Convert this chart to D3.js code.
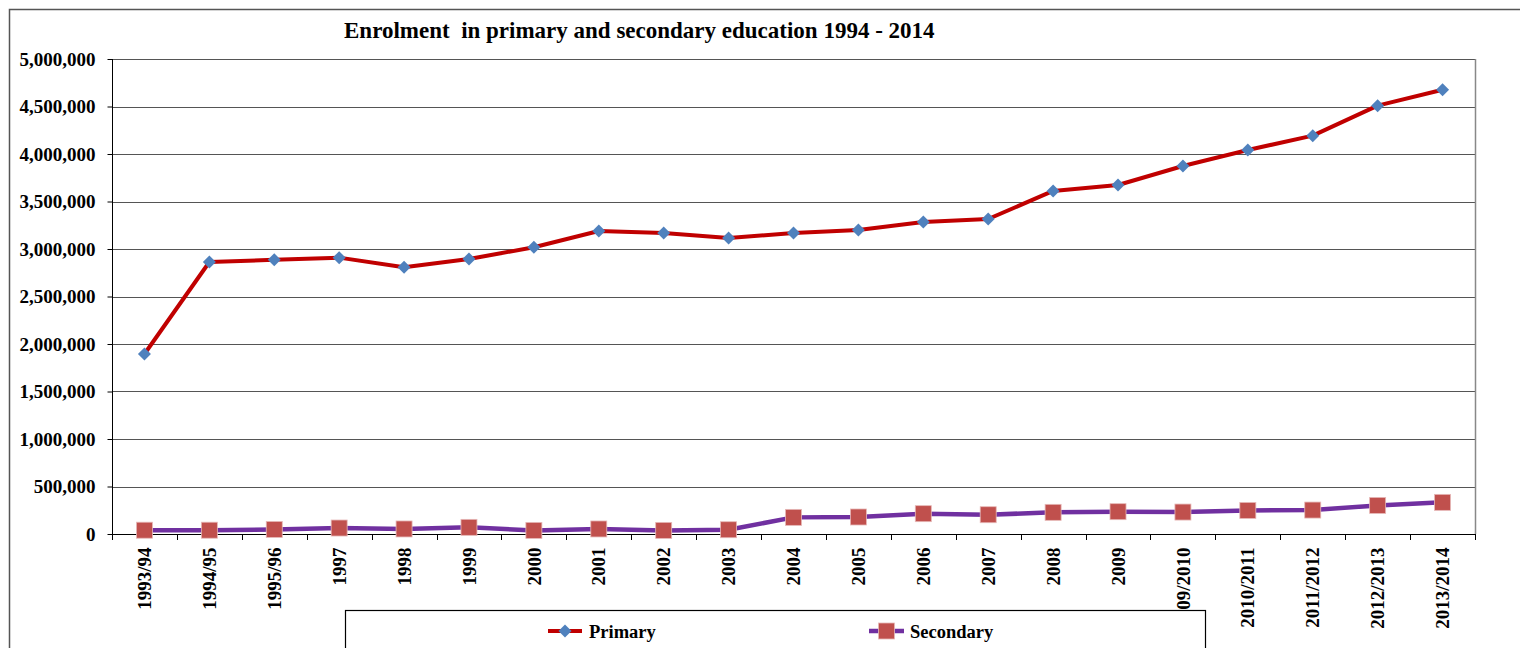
<!DOCTYPE html>
<html>
<head>
<meta charset="utf-8">
<script src="https://cdn.jsdelivr.net/npm/d3@7"></script>
<style>
  html, body { margin: 0; padding: 0; background: #fff; }
  svg { display: block; }
  text { font-family: "Liberation Serif", "Times New Roman", serif; font-weight: bold; fill: #000; }
</style>
</head>
<body>
<svg id="chart" width="1520" height="648"></svg>
<script>
const categories = ["1993/94","1994/95","1995/96","1997","1998","1999","2000","2001","2002","2003","2004","2005","2006","2007","2008","2009","2009/2010","2010/2011","2011/2012","2012/2013","2013/2014"];
const primary = [1895000,2863000,2887000,2909000,2807000,2895000,3018000,3189000,3168000,3116000,3168000,3200000,3284000,3316000,3611000,3674000,3874000,4042000,4193000,4509000,4677000];
const secondary = [40000,40000,48000,63000,53000,70000,38000,53000,38000,45000,175000,179000,214000,203000,228000,235000,231000,248000,252000,301000,333000];
const yTicks = [0,500000,1000000,1500000,2000000,2500000,3000000,3500000,4000000,4500000,5000000];
const titleText = "Enrolment  in primary and secondary education 1994 - 2014";
const seriesNames = ["Primary","Secondary"];

const svg = d3.select("#chart");
const L = 112, R = 1475, T = 59, B = 534;

const x = d3.scaleBand().domain(categories).range([L, R]).padding(0);
const xc = c => x(c) + x.bandwidth() / 2;
const y = d3.scaleLinear().domain([0, 5000000]).range([B, T]);

// outer border (left + top visible)
svg.append("path").attr("d", `M9.5,648 V9.5 H1520`).attr("fill", "none")
  .attr("stroke", "#555").attr("stroke-width", 1.5);

// title
svg.append("text").attr("x", 344).attr("y", 38).attr("font-size", 23)
  .style("white-space", "pre").text(titleText);

// gridlines
svg.append("g").selectAll("line").data(yTicks.filter(d => d > 0)).join("line")
  .attr("x1", L).attr("x2", R)
  .attr("y1", d => Math.round(y(d)) + 0.5).attr("y2", d => Math.round(y(d)) + 0.5)
  .attr("stroke", "#555").attr("stroke-width", 1);

// plot right border
svg.append("line").attr("x1", R + 0.5).attr("x2", R + 0.5).attr("y1", T).attr("y2", B)
  .attr("stroke", "#888").attr("stroke-width", 1.5);

// y axis
const yAxis = d3.axisLeft(y).tickValues(yTicks).tickFormat(d3.format(",")).tickSize(5).tickPadding(12);
const gy = svg.append("g").attr("transform", `translate(${L + 0.5},0)`).call(yAxis);
gy.select(".domain").attr("stroke", "#000").attr("d", `M0,${T}V${B + 6}`);
gy.selectAll(".tick line").attr("stroke", "#000");
gy.selectAll(".tick text").attr("font-size", 19).attr("font-family", "Liberation Serif").attr("font-weight", "bold").attr("fill", "#000").attr("dy", "0.33em");

// x axis
const xAxis = d3.axisBottom(x).tickSize(0).tickPadding(0);
const gx = svg.append("g").attr("transform", `translate(0,${Math.round(B) + 0.5})`).call(xAxis);
gx.select(".domain").attr("stroke", "#000").attr("d", `M${L},0H${R}`);
gx.selectAll(".tick text")
  .attr("font-size", 19).attr("font-family", "Liberation Serif").attr("font-weight", "bold").attr("fill", "#000")
  .attr("text-anchor", "end").attr("transform", "rotate(-90)")
  .attr("x", -13).attr("y", 0).attr("dy", "0.35em");
// boundary ticks
const bounds = categories.map(c => x(c)).concat([R]);
svg.append("g").selectAll("line").data(bounds).join("line")
  .attr("x1", d => Math.round(d) + 0.5).attr("x2", d => Math.round(d) + 0.5)
  .attr("y1", B).attr("y2", B + 6).attr("stroke", "#000");

// lines
const line = d3.line().x((d, i) => xc(categories[i])).y(d => y(d));
svg.append("path").datum(primary).attr("d", line).attr("fill", "none")
  .attr("stroke", "#C00000").attr("stroke-width", 4).attr("stroke-linejoin", "round");
svg.append("path").datum(secondary).attr("d", line).attr("fill", "none")
  .attr("stroke", "#7030A0").attr("stroke-width", 4.5).attr("stroke-linejoin", "round");

const diamond = (cx, cy, r) => `M${cx},${cy - r}L${cx + r},${cy}L${cx},${cy + r}L${cx - r},${cy}Z`;
svg.append("g").selectAll("path").data(primary).join("path")
  .attr("d", (d, i) => diamond(xc(categories[i]), y(d), 6.5))
  .attr("fill", "#4F81BD");
svg.append("g").selectAll("rect").data(secondary).join("rect")
  .attr("x", (d, i) => xc(categories[i]) - 8).attr("y", d => y(d) - 8)
  .attr("width", 16).attr("height", 16)
  .attr("fill", "#C0504D").attr("stroke", "#E6B8B7").attr("stroke-width", 0.8);

// legend
const lg = svg.append("g");
lg.append("rect").attr("x", 345.5).attr("y", 610.5).attr("width", 860).attr("height", 60)
  .attr("fill", "#fff").attr("stroke", "#000").attr("stroke-width", 1.2);
const ly = 631;
// primary
lg.append("line").attr("x1", 548).attr("x2", 582).attr("y1", ly).attr("y2", ly)
  .attr("stroke", "#C00000").attr("stroke-width", 4);
lg.append("path").attr("d", diamond(565, ly, 6.5)).attr("fill", "#4F81BD");
lg.append("text").attr("x", 589).attr("y", ly + 7).attr("font-size", 18.5).text(seriesNames[0]);
// secondary
lg.append("line").attr("x1", 869).attr("x2", 904).attr("y1", ly).attr("y2", ly)
  .attr("stroke", "#7030A0").attr("stroke-width", 4.5);
lg.append("rect").attr("x", 878.5).attr("y", ly - 8).attr("width", 16).attr("height", 16)
  .attr("fill", "#C0504D").attr("stroke", "#E6B8B7").attr("stroke-width", 0.8);
lg.append("text").attr("x", 910).attr("y", ly + 7).attr("font-size", 18.5).text(seriesNames[1]);
</script>
</body>
</html>
